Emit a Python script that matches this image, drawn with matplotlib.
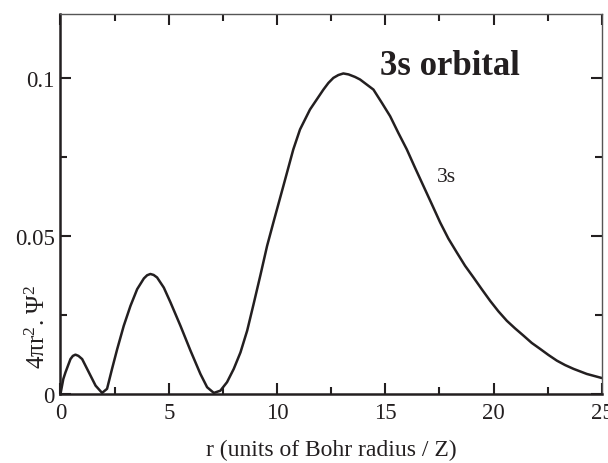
import numpy as np
import matplotlib
matplotlib.use("Agg")
import matplotlib.pyplot as plt
from matplotlib.ticker import MultipleLocator

plt.rcParams['font.family'] = ['Liberation Serif', 'DejaVu Serif']
plt.rcParams['mathtext.fontset'] = 'custom'
plt.rcParams['mathtext.rm'] = 'Liberation Serif'
plt.rcParams['mathtext.it'] = 'Liberation Serif:italic'

# radial distance (Bohr radius / Z) and 4 pi r^2 psi^2
r_vals = [0, 0.13, 0.23, 0.46, 0.57, 0.69, 0.83, 1.00, 1.31, 1.62, 1.92,
          2.15, 2.38, 2.62, 2.92, 3.23, 3.54, 3.85, 4.00, 4.15, 4.30, 4.46,
          4.77, 5.08, 5.31, 5.54, 6.00, 6.46, 6.77, 7.08, 7.38, 7.69, 8.00,
          8.31, 8.62, 8.92, 9.23, 9.54, 9.85, 10.29, 10.75, 11.06, 11.52,
          12.14, 12.37, 12.60, 12.83, 13.06, 13.30, 13.60, 13.83, 14.45,
          14.84, 15.22, 15.60, 15.99, 16.37, 16.76, 17.15, 17.53, 17.91,
          18.30, 18.68, 19.07, 19.45, 19.84, 20.22, 20.61, 20.99, 21.38,
          21.76, 22.15, 22.53, 22.92, 23.30, 23.69, 24.30, 25.00]
p_vals = [0, 0.0047, 0.0068, 0.0110, 0.0120, 0.0124, 0.0120, 0.0110, 0.0068,
          0.0026, 0.0003, 0.0016, 0.0079, 0.0142, 0.0215, 0.0278, 0.0331,
          0.0365, 0.0375, 0.0379, 0.0376, 0.0368, 0.0336, 0.0289, 0.0252,
          0.0215, 0.0137, 0.0063, 0.0021, 0.0003, 0.0010, 0.0037, 0.0079,
          0.0131, 0.0200, 0.0285, 0.0375, 0.0468, 0.0547, 0.0657, 0.0773,
          0.0836, 0.0899, 0.0962, 0.0983, 0.0999, 0.1008, 0.1013, 0.1010,
          0.1002, 0.0994, 0.0962, 0.0920, 0.0878, 0.0825, 0.0773, 0.0715,
          0.0657, 0.0599, 0.0542, 0.0491, 0.0447, 0.0405, 0.0368, 0.0331,
          0.0294, 0.0261, 0.0231, 0.0207, 0.0184, 0.0161, 0.0142, 0.0123,
          0.0105, 0.0091, 0.0079, 0.0063, 0.0050]

x_ticks = [0, 5, 10, 15, 20, 25]
y_ticks = [0, 0.05, 0.1]
y_tick_labels = ['0', '0.05', '0.1']

ink = '#231f20'

fig = plt.figure(figsize=(6.08, 4.64), dpi=100)
ax = fig.add_axes([0.0995, 0.149, 0.8905, 0.818])

ax.plot(r_vals, p_vals, color=ink, lw=1.8, solid_capstyle='round',
        solid_joinstyle='round')

ax.set_xlim(0, 25)
ax.set_ylim(0, 0.12)
ax.set_xticks(x_ticks)
ax.set_yticks(y_ticks)
ax.set_yticklabels(y_tick_labels)
ax.xaxis.set_minor_locator(MultipleLocator(2.5))
ax.yaxis.set_minor_locator(MultipleLocator(0.025))
ax.tick_params(which='both', direction='in', top=True, right=True,
               color=ink, labelsize=16.5, labelcolor=ink, pad=4)
ax.tick_params(axis='x', pad=6)
ax.tick_params(which='major', length=8, width=1.5)
ax.tick_params(which='minor', length=5, width=1.5)

for side in ['left', 'bottom']:
    ax.spines[side].set_linewidth(1.8)
    ax.spines[side].set_color(ink)
for side in ['top', 'right']:
    ax.spines[side].set_linewidth(1.0)
    ax.spines[side].set_color('#555555')

ax.set_xlabel('r (units of Bohr radius / Z)', fontsize=17, color=ink, labelpad=11)
ax.set_ylabel(r'4πr$^2$. Ψ$^2$', fontsize=18, color=ink)
ax.yaxis.set_label_coords(-0.02, 0.18)

ax.text(14.76, 0.101, '3s orbital', fontsize=25, fontweight='bold',
        color=ink, va='baseline', ha='left')
ax.text(17.4, 0.0672, '3s', fontsize=15.5, color=ink, va='baseline', ha='left')

fig.savefig('out.png', dpi=100)
